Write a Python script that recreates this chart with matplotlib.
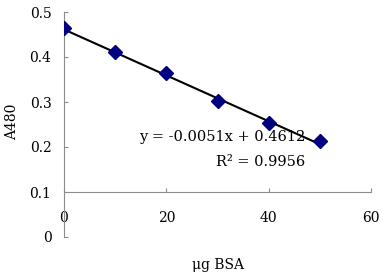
import numpy as np
import matplotlib
matplotlib.use('Agg')
import matplotlib.pyplot as plt

plt.rcParams.update({
    'font.family': ['DejaVu Serif'],
    'font.size': 10,
})

# data
bsa_ug = [0, 10, 20, 30, 40, 50]
a480 = [0.464, 0.411, 0.364, 0.302, 0.253, 0.213]

# trendline from the printed equation
slope = -0.0051
intercept = 0.4612
r2 = 0.9956

x_ticks = [0, 20, 40, 60]
y_ticks = [0, 0.1, 0.2, 0.3, 0.4, 0.5]

fig = plt.figure(figsize=(3.84, 2.78), dpi=100)
ax = fig.add_axes([64 / 384, 1 - 237 / 278, 307 / 384, 225 / 278])

xs = np.array([bsa_ug[0], bsa_ug[-1]])
ax.plot(xs, slope * xs + intercept, color='black', lw=1.5, zorder=2)
ax.plot(bsa_ug, a480, linestyle='none', marker='D', markersize=7,
        color='#000080', markeredgecolor='#000080', zorder=3)

ax.set_xlim(0, 60)
ax.set_ylim(0, 0.5)
ax.set_xticks(x_ticks)
ax.set_yticks(y_ticks)
ax.set_xticklabels([str(v) for v in x_ticks])
ax.set_yticklabels(['0' if v == 0 else f'{v:.1f}' for v in y_ticks])

for side in ['top', 'right']:
    ax.spines[side].set_visible(False)
ax.spines['bottom'].set_position(('data', 0.1))
ax.spines['left'].set_position(('data', 0))
for side in ['bottom', 'left']:
    ax.spines[side].set_color('#8c8c8c')
    ax.spines[side].set_linewidth(0.8)

ax.tick_params(axis='x', direction='in', length=3, color='#8c8c8c', pad=14)
ax.tick_params(axis='y', direction='in', length=3, color='#8c8c8c', pad=9)

ax.set_xlabel('μg BSA')
ax.xaxis.set_label_coords(0.5, -0.095)
ax.set_ylabel('A480')
ax.yaxis.set_label_coords(-0.145, 0.51)

ax.text(0.785, 0.444, f'y = {slope:.4f}x + {intercept:.4f}', transform=ax.transAxes,
        ha='right', va='center', fontsize=10.5)
ax.text(0.785, 0.333, f'R² = {r2:.4f}', transform=ax.transAxes,
        ha='right', va='center', fontsize=10.5)

fig.savefig('out.png', dpi=100)
